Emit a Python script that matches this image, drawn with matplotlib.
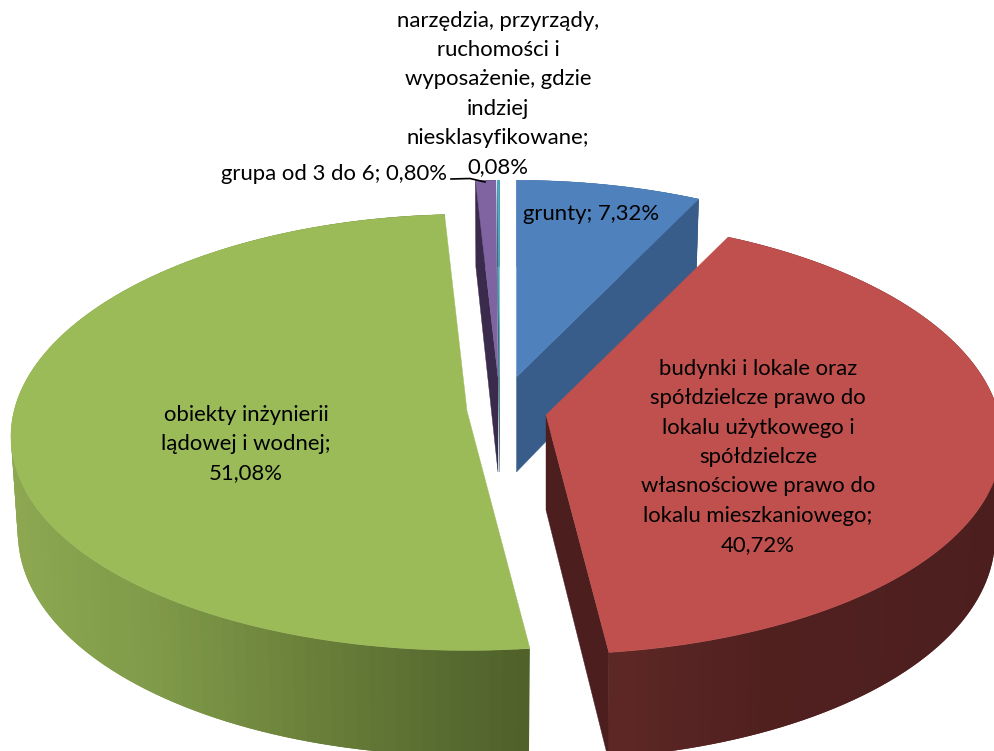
import numpy as np
import matplotlib
matplotlib.use("Agg")
import matplotlib.pyplot as plt
from matplotlib.colors import to_rgb

plt.rcParams['font.family'] = ['Lato', 'DejaVu Sans']

# clockwise from 12 o'clock
categories = [
    "grunty",
    "budynki i lokale oraz\nspółdzielcze prawo do\nlokalu użytkowego i\nspółdzielcze\nwłasnościowe prawo do\nlokalu mieszkaniowego",
    "obiekty inżynierii\nlądowej i wodnej",
    "grupa od 3 do 6",
    "narzędzia, przyrządy,\nruchomości i\nwyposażenie, gdzie\nindziej\nniesklasyfikowane",
]
values = [7.32, 40.72, 51.08, 0.80, 0.08]
separators = [" ", "\n", "\n", " ", "\n"]

top_colors = ["#4f81bd", "#c0504d", "#9bbb59", "#8064a2", "#4bacc6"]
face_colors = ["#385d8a", "#4c1f1e", "#4f6029", "#3a2b4c", "#205867"]

# where each exploded slice has its tip (pixels)
apex = [(516.5, 377), (546, 415), (467, 411), (498, 377), (499.5, 377)]
label_pos = [(591, 214), (758, 457), (246, 444), (334, 174), (498, 94)]

RX, RY, KX, KY = 453, 216, 0.116, 0.098
DEPTH = 95


def project(theta, tip, bottom=False):
    u, v = np.sin(theta), np.cos(theta)
    wx = 1 / (1 + KX * v)
    wy = 1 / (1 + KY * v)
    dx, dy = RX * u * wx, -RY * v * wy
    if bottom:
        return tip[0] + dx * 0.985, tip[1] + dy + DEPTH * wy
    return tip[0] + dx, tip[1] + dy


def wall_color(x, stops):
    xs = [s[0] for s in stops]
    rgb = np.array([to_rgb(s[1]) for s in stops])
    return [np.interp(x, xs, rgb[:, i]) for i in range(3)]


wall_stops = [
    [(500, "#385d8a"), (700, "#385d8a")],
    [(600, "#5e2826"), (760, "#50201f"), (1000, "#4c1f1e")],
    [(10, "#8dA851"), (150, "#7f9a49"), (300, "#6b813a"), (450, "#566a30"), (530, "#4f6029")],
    [(470, "#3a2b4c"), (500, "#3a2b4c")],
    [(490, "#205867"), (510, "#205867")],
]

fig = plt.figure(figsize=(9.95, 7.51), dpi=100)
ax = fig.add_axes([0, 0, 1, 1])
ax.set_xlim(0, 995)
ax.set_ylim(751, 0)
ax.axis("off")

edges = np.radians(np.cumsum([0] + values) * 3.6)

for i in [0, 3, 4, 2, 1]:
    t0, t1 = edges[i], edges[i + 1]
    tip = apex[i]
    n = max(int(np.degrees(t1 - t0) / 1.5), 2)
    ts = np.linspace(t0, t1, n + 1)
    step = ts[1] - ts[0]

    # outer wall, facets overlap so no seams show between them
    for a in ts[:-1]:
        b = min(a + 2 * step, t1)
        xa, ya = project(a, tip)
        xb, yb = project(b, tip)
        xc, yc = project(b, tip, bottom=True)
        xd, yd = project(a, tip, bottom=True)
        col = wall_color((xa + xb) / 2, wall_stops[i])
        ax.fill([xa, xb, xc, xd], [ya, yb, yc, yd], color=col, lw=0)

    # cut face that looks at the viewer
    side = t1 if i in (0, 1) else t0
    if i != 2:
        x1, y1 = project(side, tip)
        x2, y2 = project(side, tip, bottom=True)
        ax.fill([tip[0], x1, x2, tip[0]], [tip[1], y1, y2, tip[1] + DEPTH],
                color=face_colors[i], lw=0.3)

    # top surface
    xs, ys = project(ts, tip)
    ax.fill(np.r_[tip[0], xs], np.r_[tip[1], ys], color=top_colors[i], lw=0.3)

# leader line of the small slice
ax.plot([451, 470, 485], [179, 178.5, 182], color="black", lw=1.2)

for name, val, sep, pos in zip(categories, values, separators, label_pos):
    txt = f"{name};{sep}{val:.2f}%".replace(".", ",")
    ax.text(pos[0], pos[1], txt, ha="center", va="center", fontsize=15.9,
            color="black", linespacing=1.58)

fig.savefig("out.png", dpi=100)
